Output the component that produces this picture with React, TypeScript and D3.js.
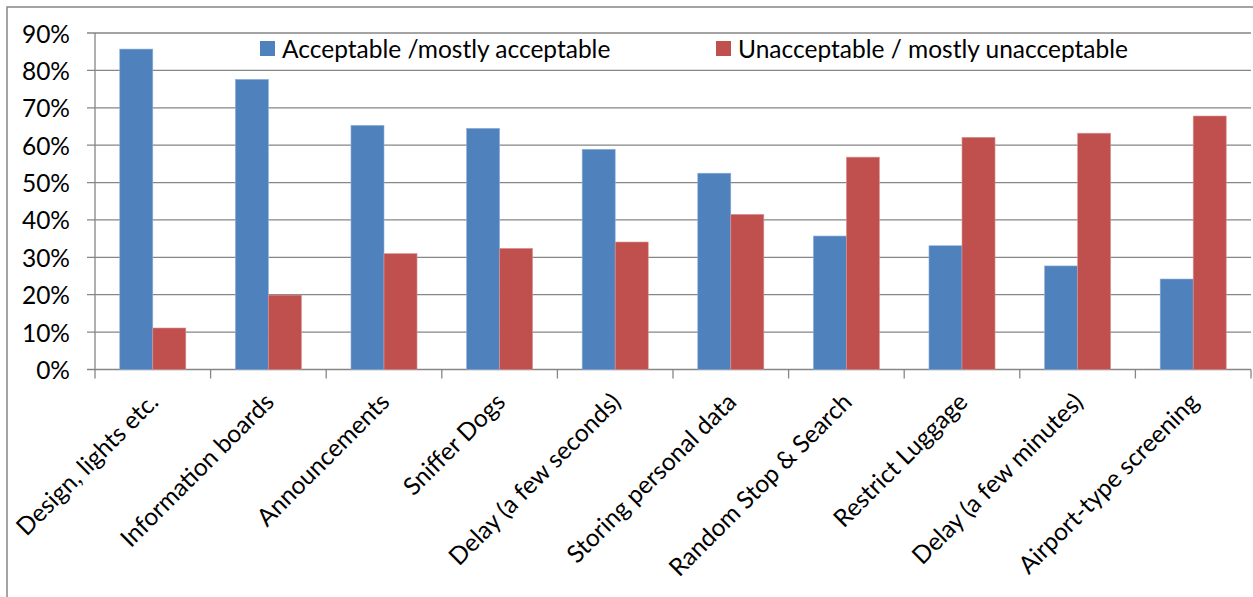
import React from "react";
import * as d3 from "d3";

const categories = [
  "Design, lights etc.",
  "Information boards",
  "Announcements",
  "Sniffer Dogs",
  "Delay (a few seconds)",
  "Storing personal data",
  "Random Stop & Search",
  "Restrict Luggage",
  "Delay (a few minutes)",
  "Airport-type screening",
];
const acceptable = [0.857, 0.776, 0.653, 0.645, 0.589, 0.525, 0.357, 0.331, 0.277, 0.242];
const unacceptable = [0.111, 0.199, 0.31, 0.324, 0.341, 0.415, 0.568, 0.621, 0.632, 0.678];
const seriesNames = ["Acceptable /mostly acceptable", "Unacceptable / mostly unacceptable"];
const seriesColors = ["#4F81BD", "#C0504D"];
const yTicks = [0, 0.1, 0.2, 0.3, 0.4, 0.5, 0.6, 0.7, 0.8, 0.9];

const W = 1253;
const H = 597;
const FONT = "Lato, 'Open Sans', sans-serif";
const FS = 24.5;
const GRID = "#868686";

export default function App() {
  const left = 95;
  const right = 1251;
  const top = 33;
  const bottom = 369.5;

  const x = d3.scaleBand<string>().domain(categories).range([left, right]).paddingInner(0).paddingOuter(0);
  const inner = d3
    .scaleBand<string>()
    .domain(seriesNames)
    .range([0, x.bandwidth()])
    .paddingInner(0)
    .paddingOuter(0.75);
  const y = d3.scaleLinear().domain([0, 0.9]).range([bottom, top]);
  const fmt = d3.format(".0%");
  const values = [acceptable, unacceptable];

  const boundaries = categories.map((c) => x(c) as number).concat([right]);

  return (
    <div style={{ position: "fixed", left: 0, top: 0 }}>
      <svg width={W} height={H} style={{ display: "block", background: "#fff" }}>
        <rect x={7} y={7} width={W + 20} height={H + 20} fill="#fff" stroke={GRID} strokeWidth={1.5} />
        {/* gridlines */}
        {yTicks.map((t) => (
          <line key={"g" + t} x1={87} x2={right} y1={y(t)} y2={y(t)} stroke={GRID} strokeWidth={1.3} />
        ))}
        {/* y axis */}
        <line x1={left} x2={left} y1={top} y2={bottom} stroke={GRID} strokeWidth={1.3} />
        {yTicks.map((t) => (
          <text
            key={"yl" + t}
            x={70}
            y={y(t)}
            textAnchor="end"
            dominantBaseline="central"
            fontFamily={FONT}
            fontSize={FS}
            fill="#000"
          >
            {fmt(t)}
          </text>
        ))}
        {/* x tick marks */}
        {boundaries.map((b, i) => (
          <line key={"xt" + i} x1={b} x2={b} y1={bottom} y2={bottom + 9} stroke={GRID} strokeWidth={1.3} />
        ))}
        {/* bars */}
        {values.map((vals, si) =>
          vals.map((v, ci) => {
            const bx = (x(categories[ci]) as number) + (inner(seriesNames[si]) as number);
            return (
              <rect
                key={"b" + si + "-" + ci}
                x={bx}
                y={y(v)}
                width={inner.bandwidth()}
                height={bottom - y(v)}
                fill={seriesColors[si]}
                stroke={si === 0 ? "#8FB0DA" : "#D99694"}
                strokeWidth={0.6}
              />
            );
          })
        )}
        {/* category labels */}
        {categories.map((c) => {
          const cx = (x(c) as number) + x.bandwidth() / 2 + 1;
          const cy = bottom + 28;
          return (
            <text
              key={"xl" + c}
              transform={`translate(${cx},${cy}) rotate(-45)`}
              textAnchor="end"
              dy="0.35em"
              fontFamily={FONT}
              fontSize={FS}
              fill="#000"
            >
              {c}
            </text>
          );
        })}
        {/* legend */}
        {seriesNames.map((s, i) => {
          const lx = i === 0 ? 260 : 716;
          return (
            <g key={"lg" + s}>
              <rect x={lx} y={41} width={15} height={15} fill={seriesColors[i]} />
              <text x={lx + 22} y={48.5} dominantBaseline="central" fontFamily={FONT} fontSize={FS} fill="#000">
                {s}
              </text>
            </g>
          );
        })}
      </svg>
    </div>
  );
}
